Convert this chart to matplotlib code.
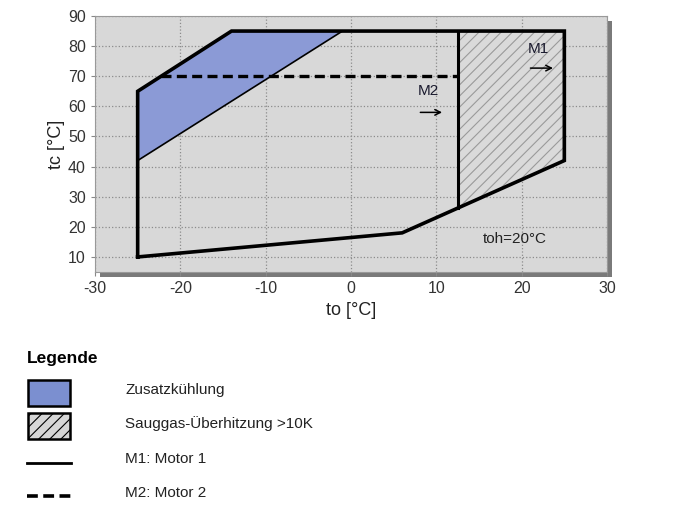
import matplotlib
matplotlib.use("Agg")
import matplotlib.pyplot as plt
from matplotlib.patches import Rectangle
from matplotlib.lines import Line2D

plt.rcParams["font.family"] = ["Liberation Sans", "DejaVu Sans"]
plt.rcParams["hatch.linewidth"] = 0.8
plt.rcParams["axes.unicode_minus"] = False

# operating envelope (M1, solid)
env_to = [-25, -25, -14, 25, 25, 6, -25]
env_tc = [10, 65, 85, 85, 42, 18, 10]
# M2 limit (dashed)
m2_to = [-22.3, 12.5]
m2_tc = [70, 70]
# additional cooling region
cool_to = [-25, -25, -14, -1]
cool_tc = [42, 65, 85, 85]
# suction gas superheat > 10K region
sh_to = [12.5, 25, 25, 12.5]
sh_tc = [85, 85, 42, 26.2]

xticks = [-30, -20, -10, 0, 10, 20, 30]
yticks = [10, 20, 30, 40, 50, 60, 70, 80, 90]

W, H = 685, 514
fig = plt.figure(figsize=(W / 100, H / 100), dpi=100)
l, r, t, b = 95, 607, 16, 272
ax = fig.add_axes([l / W, 1 - b / H, (r - l) / W, (b - t) / H])
# drop shadow behind the plot area
fig.patches.append(Rectangle(((l + 5) / W, 1 - (b + 5) / H), (r - l) / W, (b - t) / H,
                             transform=fig.transFigure, facecolor="#7a7a7a",
                             edgecolor="none", zorder=0))
ax.set_zorder(1)
ax.set_facecolor("#d8d8d8")

ax.fill(cool_to, cool_tc, facecolor="#8b9ad6", edgecolor="none", zorder=2)
ax.plot([cool_to[0], cool_to[-1]], [cool_tc[0], cool_tc[-1]], color="black", lw=1.2, zorder=3)
ax.fill(sh_to, sh_tc, facecolor="#dadada", edgecolor="#9a9a9a", hatch="///", lw=0, zorder=2)
ax.plot([sh_to[0], sh_to[-1]], [sh_tc[0], sh_tc[-1]], color="black", lw=2.2, zorder=4)
ax.plot(env_to, env_tc, color="black", lw=2.6, solid_joinstyle="miter", zorder=4)
ax.plot(m2_to, m2_tc, color="black", lw=2.4, ls=(0, (3, 1.6)), zorder=4)

ax.text(21.9, 79, "M1", ha="center", va="center", fontsize=11, color="#1a1a2e")
ax.annotate("", xy=(24.0, 72.7), xytext=(20.7, 72.7),
            arrowprops=dict(arrowstyle="->", color="black", lw=1.1))
ax.text(9.1, 65, "M2", ha="center", va="center", fontsize=11, color="#1a1a2e")
ax.annotate("", xy=(11.0, 58), xytext=(7.8, 58),
            arrowprops=dict(arrowstyle="->", color="black", lw=1.1))
ax.text(19.2, 16, "toh=20°C", ha="center", va="center", fontsize=11, color="#222222")

ax.set_xlim(-30, 30)
ax.set_ylim(5, 90)
ax.set_xticks(xticks)
ax.set_yticks(yticks)
ax.tick_params(labelsize=11.5, colors="#333333", length=3, color="#888888")
ax.grid(True, ls=":", color="#8c8c8c", lw=0.9)
ax.set_axisbelow(True)
for s in ax.spines.values():
    s.set_color("#999999")
    s.set_linewidth(0.8)
ax.set_xlabel("to [°C]", fontsize=13, color="#222222", labelpad=4)
ax.set_ylabel("tc [°C]", fontsize=13, color="#222222", labelpad=2)

# legend block
fig.text(27 / W, 1 - 358 / H, "Legende", fontsize=12.5, fontweight="bold", va="center")
fig.patches.append(Rectangle((28 / W, 1 - 406 / H), 42 / W, 26 / H, transform=fig.transFigure,
                             facecolor="#7b8fd0", edgecolor="black", lw=1.8))
fig.patches.append(Rectangle((28 / W, 1 - 439 / H), 42 / W, 26 / H, transform=fig.transFigure,
                             facecolor="#d6d6d6", edgecolor="black", lw=1.8, hatch="///"))
fig.lines.append(Line2D([27 / W, 71 / W], [1 - 463 / H] * 2, transform=fig.transFigure,
                        color="black", lw=2))
fig.lines.append(Line2D([27 / W, 71 / W], [1 - 496 / H] * 2, transform=fig.transFigure,
                        color="black", lw=2.6, ls=(0, (3, 1.5))))
for yy, txt in [(390, "Zusatzkühlung"), (424, "Sauggas-Überhitzung >10K"),
                (459, "M1: Motor 1"), (493, "M2: Motor 2")]:
    fig.text(125 / W, 1 - yy / H, txt, fontsize=11, va="center", color="#222222")

fig.savefig("out.png", dpi=100)
